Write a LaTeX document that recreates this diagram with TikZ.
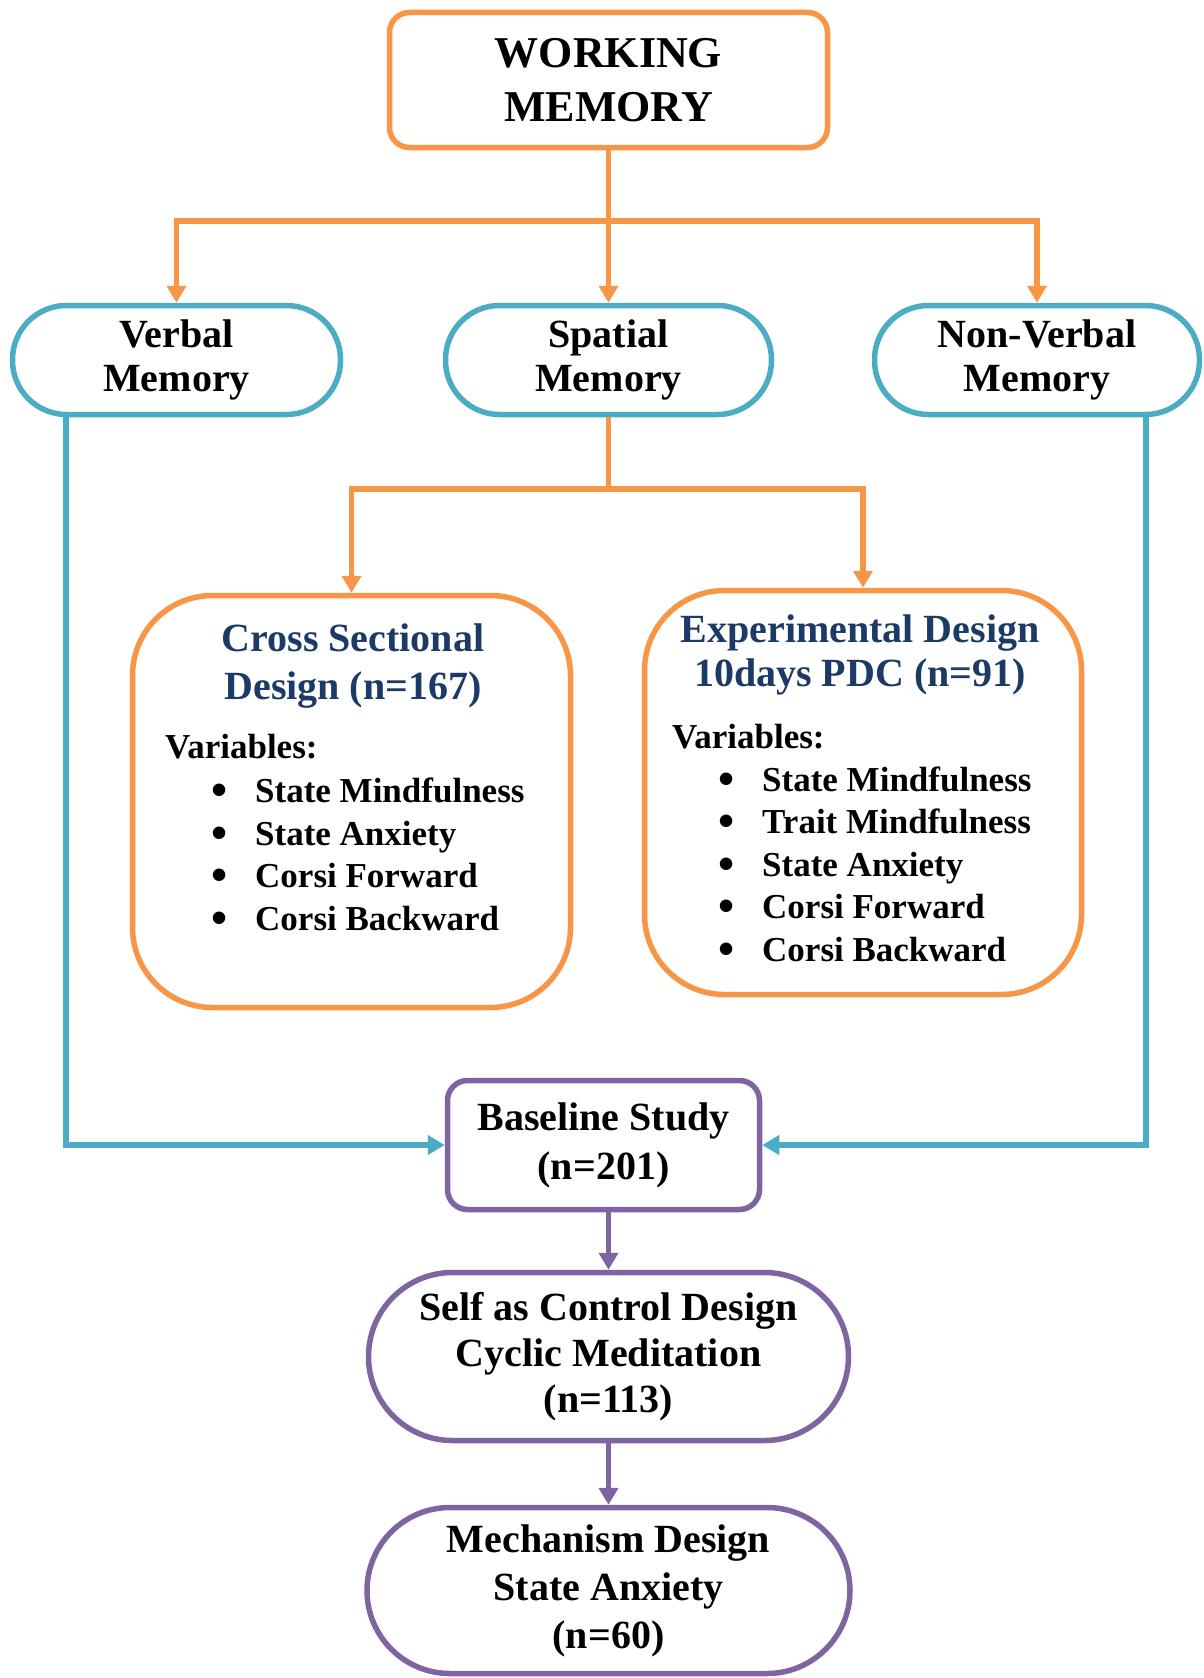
\documentclass[tikz,border=0pt]{standalone}
\usepackage{fontspec}
\setmainfont{Liberation Serif}
\usetikzlibrary{arrows.meta}
\definecolor{wmorange}{HTML}{F79646}
\definecolor{wmblue}{HTML}{4BACC6}
\definecolor{wmpurple}{HTML}{8064A2}
\definecolor{wmnavy}{HTML}{1B3A66}
\newcommand{\itembul}{\makebox[44pt][l]{\raisebox{-3pt}{\fontsize{46}{46}\selectfont\textbullet}}}

\begin{document}
\begin{tikzpicture}[x=1pt,y=-1pt,
  box/.style={draw, line width=5.5pt, fill=white, inner sep=0pt, align=center,
    font=\fontsize{40}{46}\selectfont\bfseries},
  obox/.style={box, draw=wmorange},
  bbox/.style={box, draw=wmblue},
  pbox/.style={box, draw=wmpurple},
  title/.style={inner sep=0pt, align=center, text=wmnavy,
    font=\fontsize{40}{48}\selectfont\bfseries},
  vartext/.style={inner sep=0pt, anchor=base west,
    font=\fontsize{35}{42}\selectfont\bfseries},
  link/.style={line width=5.5pt},
  tip/.style={-{Triangle[width=19pt,length=17pt]}}
]
\useasboundingbox (0,0) rectangle (1204,1678);

% top level
\node[obox, minimum width=438pt, minimum height=135pt, rounded corners=20pt,
  font=\fontsize{44}{54}\selectfont\bfseries] (wm) at (608.5,80) {WORKING\\MEMORY};

% memory types
\node[bbox, minimum width=328pt, minimum height=109pt, rounded corners=54pt,
  font=\fontsize{40}{44}\selectfont\bfseries] (verbal) at (176.5,360) {Verbal\\Memory};
\node[bbox, minimum width=326pt, minimum height=109pt, rounded corners=54pt,
  font=\fontsize{40}{44}\selectfont\bfseries] (spatial) at (608.5,360) {Spatial\\Memory};
\node[bbox, minimum width=325pt, minimum height=109pt, rounded corners=54pt,
  font=\fontsize{40}{44}\selectfont\bfseries] (nonverbal) at (1037,360) {Non-Verbal\\Memory};

% study designs
\node[obox, minimum width=438pt, minimum height=412pt, rounded corners=80pt] (cross) at (351.5,801.5) {};
\node[obox, minimum width=437pt, minimum height=404pt, rounded corners=80pt] (exp) at (863,792.5) {};

\node[title] (cstitle) at (353,666) {Cross Sectional\\Design (n=167)};
\node[vartext] (csvar) at (165,758) {Variables:};
\node[vartext] (cs1) at (211,802) {\itembul State Mindfulness};
\node[vartext] (cs2) at (211,845) {\itembul State Anxiety};
\node[vartext] (cs3) at (211,887) {\itembul Corsi Forward};
\node[vartext] (cs4) at (211,930) {\itembul Corsi Backward};

\node[title, font=\fontsize{40}{44}\selectfont\bfseries] (extitle) at (860,655) {Experimental Design\\10days PDC (n=91)};
\node[vartext] (exvar) at (672,748) {Variables:};
\node[vartext] (ex1) at (718,791) {\itembul State Mindfulness};
\node[vartext] (ex2) at (718,833) {\itembul Trait Mindfulness};
\node[vartext] (ex3) at (718,876) {\itembul State Anxiety};
\node[vartext] (ex4) at (718,918) {\itembul Corsi Forward};
\node[vartext] (ex5) at (718,961) {\itembul Corsi Backward};

% follow-up studies
\node[pbox, minimum width=312pt, minimum height=129pt, rounded corners=20pt,
  font=\fontsize{40}{49}\selectfont\bfseries] (baseline) at (603.5,1145) {Baseline Study\\(n=201)};
\node[pbox, minimum width=480pt, minimum height=168pt, rounded corners=84pt] (self) at (608.5,1356.5)
  {Self as Control Design\\Cyclic Meditation\\(n=113)};
\node[pbox, minimum width=483pt, minimum height=166pt, rounded corners=83pt,
  font=\fontsize{40}{48}\selectfont\bfseries] (mech) at (608.5,1590.5)
  {Mechanism Design\\State Anxiety\\(n=60)};

% orange branches
\coordinate (wmj) at (608.5,221);
\draw[link, wmorange] (wm.south) -- (wmj);
\draw[link, wmorange, tip] (wmj) -- (spatial.north);
\draw[link, wmorange, tip] (wmj) -| (verbal.north);
\draw[link, wmorange, tip] (wmj) -| (nonverbal.north);

\coordinate (sj) at (608.5,489);
\draw[link, wmorange] (spatial.south) -- (sj);
\draw[link, wmorange, tip] (sj) -| (cross.north);
\draw[link, wmorange, tip] (sj) -| (exp.north);

% blue feeds into the baseline study
\draw[link, wmblue, tip] ([xshift=-110.5pt]verbal.south) |- (baseline.west);
\draw[link, wmblue, tip] ([xshift=109pt]nonverbal.south) |- (baseline.east);

% purple chain
\draw[link, wmpurple, tip] (baseline.south -| self.north) -- (self.north);
\draw[link, wmpurple, tip] (self.south) -- (mech.north);
\end{tikzpicture}
\end{document}
